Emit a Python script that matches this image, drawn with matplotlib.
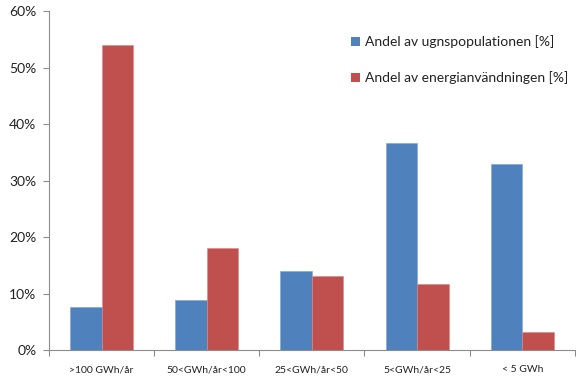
import numpy as np
import matplotlib.pyplot as plt
from matplotlib.ticker import FuncFormatter, FixedLocator
from matplotlib.patches import Patch

# storleksklasser och andelar (%)
klasser = [">100 GWh/år", "50<GWh/år<100", "25<GWh/år<50", "5<GWh/år<25", "< 5 GWh"]
andel_ugnar = [7.6, 8.8, 14.0, 36.6, 32.9]
andel_energi = [54.0, 18.0, 13.1, 11.7, 3.2]
serie_namn = ["Andel av ugnspopulationen [%]", "Andel av energianvändningen [%]"]

plt.rcParams['font.family'] = ['Lato', 'DejaVu Sans']

blue = '#4F81BD'
red = '#C0504D'

fig = plt.figure(figsize=(5.76, 3.81), dpi=100)
ax = fig.add_axes([0.085, 0.081, 0.913, 0.89])

x = np.arange(len(klasser))
w = 0.3
ax.bar(x - w/2, andel_ugnar, w, color=blue, edgecolor='#7FA3D3', linewidth=0.4)
ax.bar(x + w/2, andel_energi, w, color=red, edgecolor='#D88A88', linewidth=0.4)

ax.set_xlim(-0.5, len(klasser) - 0.5)
ax.set_ylim(0, 60)
ax.set_yticks(np.arange(0, 61, 10))
ax.yaxis.set_major_formatter(FuncFormatter(lambda v, p: f"{v:.0f}%"))
ax.tick_params(axis='y', labelsize=10, length=4, width=0.8, color='#8C8C8C',
               labelcolor='#222222', pad=5)

ax.set_xticks(x)
ax.set_xticklabels(klasser)
ax.tick_params(axis='x', which='major', length=0, labelsize=7.5, pad=11, labelcolor='#222222')
ax.xaxis.set_minor_locator(FixedLocator(np.arange(-0.5, len(klasser), 1.0)))
ax.tick_params(axis='x', which='minor', length=4, width=0.8, color='#8C8C8C')

for s in ['top', 'right']:
    ax.spines[s].set_visible(False)
for s in ['left', 'bottom']:
    ax.spines[s].set_color('#8C8C8C')
    ax.spines[s].set_linewidth(0.8)

handles = [Patch(facecolor=blue), Patch(facecolor=red)]
ax.legend(handles, serie_namn, loc='upper left', bbox_to_anchor=(0.55, 0.965),
          frameon=False, fontsize=10, handlelength=0.65, handleheight=0.65,
          handletextpad=0.4, labelspacing=1.65, labelcolor='#222222')

fig.savefig('out.png', dpi=100)
